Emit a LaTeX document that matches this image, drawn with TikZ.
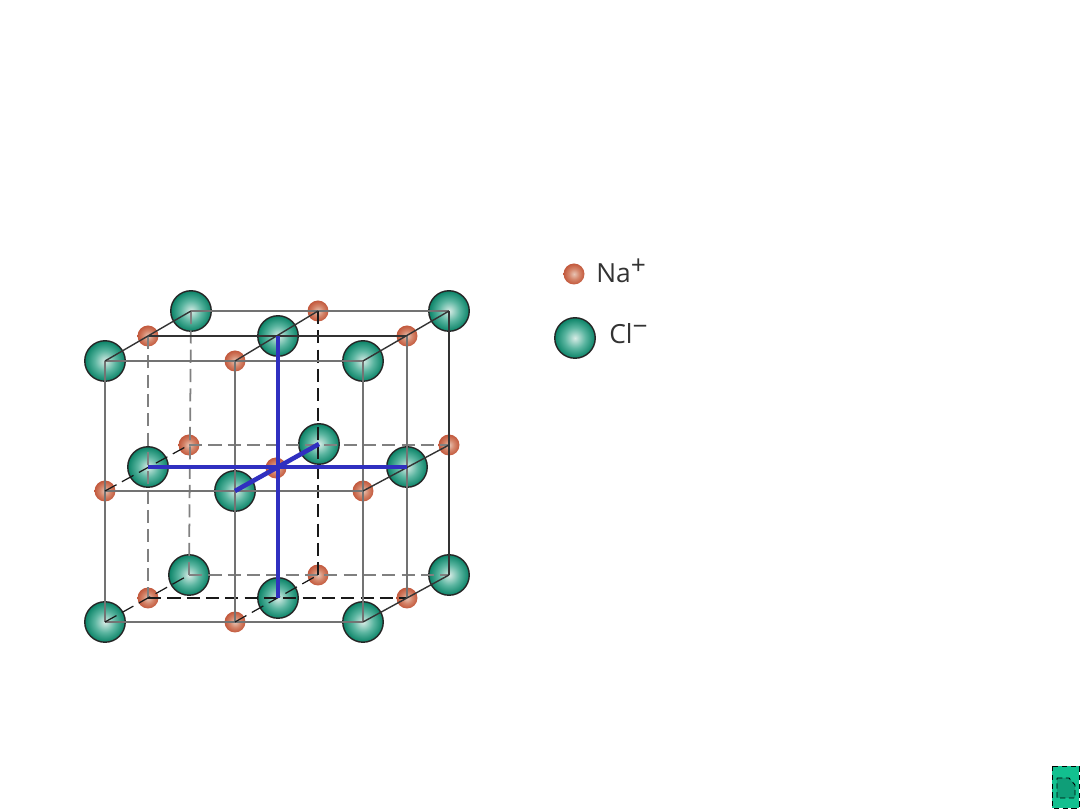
\documentclass[tikz,border=0pt]{standalone}
\usepackage{fontspec}
\setmainfont{Open Sans}
\definecolor{clrim}{HTML}{0A8367}
\definecolor{clmid}{HTML}{5AB5A0}
\definecolor{clcore}{HTML}{D8ECE6}
\definecolor{narim}{HTML}{C2583C}
\definecolor{namid}{HTML}{D48469}
\definecolor{nacore}{HTML}{E8C4B4}
\definecolor{bond}{HTML}{3030C0}
\definecolor{iconback}{HTML}{12C08F}
\definecolor{iconpage}{HTML}{0F9E78}
\pgfdeclareradialshading{clball}{\pgfpoint{0bp}{0bp}}{color(0bp)=(clcore); color(13bp)=(clmid); color(25bp)=(clrim); color(50bp)=(clrim)}
\pgfdeclareradialshading{naball}{\pgfpoint{0bp}{0bp}}{color(0bp)=(nacore); color(13bp)=(namid); color(25bp)=(narim); color(50bp)=(narim)}
\tikzset{
	clion/.style={circle,inner sep=0pt,minimum size=0.81cm,draw={black!85},line width=0.8pt,shading=clball},
	naion/.style={circle,inner sep=0pt,minimum size=0.42cm,shading=naball},
	edgefront/.style={draw={black!55},line width=1pt},
	edgeback/.style={draw={black!80},line width=0.8pt},
	edgedash/.style={draw={black!50},line width=1pt,dash pattern=on 7.5pt off 3.5pt},
	edgehide/.style={draw={black!90},line width=0.7pt,dash pattern=on 7.5pt off 3.5pt},
	axis/.style={draw=bond,line width=2.6pt},
	ionlabel/.style={font=\fontsize{15}{18}\selectfont,text={black!80},inner sep=0pt,anchor=west}
}
\begin{document}
\begin{tikzpicture}[x=0.02cm,y=-0.02cm]
	\useasboundingbox (0,0) rectangle (1080,810);
	% spheres first, lines run over them
	\begin{scope}
		\clip (0,0) rectangle (1080,643);
		\foreach \x/\y/\nm in {191/311/b11,449/311/b13,319/444/b22,189/575/b31,449/575/b33,
			278/336/m12,148/467/m21,407/467/m23,278/598/m32,
			105/361/f11,363/361/f13,235/491/f22,105/622/f31,363/622/f33}
			\node[clion] (\nm) at (\x,\y) {};
		\foreach \x/\y/\nm in {318/311/b12,189/445/b21,449/445/b23,318/575/b32,
			148/336/m11,407/336/m13,276/468/m22,148/598/m31,407/598/m33,
			235/361/f12,105/491/f21,363/491/f23,235/622/f32}
			\node[naion] (\nm) at (\x,\y) {};
	\end{scope}

	% back layer
	\draw[edgefront] (b11.center) -- (b13.center);
	\draw[edgedash] (b21.center) -- (b23.center);
	\draw[edgedash] (b31.center) -- (b33.center);
	\draw[edgedash] (b11.center) -- (b31.center);
	\draw[edgehide] (b12.center) -- (b32.center);
	\draw[edgeback] (b13.center) -- (b33.center);

	% middle layer
	\draw[edgeback] (m11.center) -- (m13.center);
	\draw[edgehide] (m31.center) -- (m33.center);
	\draw[edgedash] (m11.center) -- (m31.center);
	\draw[edgefront] (m13.center) -- (m33.center);

	% front layer
	\draw[edgefront] (f11.center) -- (f13.center);
	\draw[edgefront] (f21.center) -- (f23.center);
	\draw[edgefront] (f31.center) -- (f33.center);
	\draw[edgefront] (f11.center) -- (f31.center);
	\draw[edgefront] (f12.center) -- (f32.center);
	\draw[edgefront] (f13.center) -- (f33.center);

	% depth lines
	\draw[edgeback] (f11.center) -- (b11.center);
	\draw[edgeback] (f12.center) -- (b12.center);
	\draw[edgeback] (f13.center) -- (b13.center);
	\draw[edgehide] (f21.center) -- (b21.center);
	\draw[edgeback] (f23.center) -- (b23.center);
	\draw[edgehide] (f31.center) -- (b31.center);
	\draw[edgehide] (f32.center) -- (b32.center);
	\draw[edgeback] (f33.center) -- (b33.center);

	% the three axes through the centre
	\draw[axis] (m12.center) -- (m32.center);
	\draw[axis] (m21.center) -- (m23.center);
	\draw[axis] (f22.center) -- (b22.center);

	% key
	\node[naion] (keyna) at (574,274) {};
	\node[clion] (keycl) at (575,338) {};
	\node[ionlabel] (labelna) at (596,271) {Na\raisebox{0.32em}{+}};
	\node[ionlabel] (labelcl) at (609,334) {Cl\raisebox{0.32em}{−}};

	% page icon
	\draw[fill=iconback,draw=black,line width=0.5pt,densely dashed] (1052,766) rectangle (1079,808);
	\draw[fill=iconpage,draw=black,line width=0.5pt,densely dashed]
		(1057,778) -- (1069,778) -- (1075,785) -- (1075,798) -- (1057,798) -- cycle;
\end{tikzpicture}
\end{document}
